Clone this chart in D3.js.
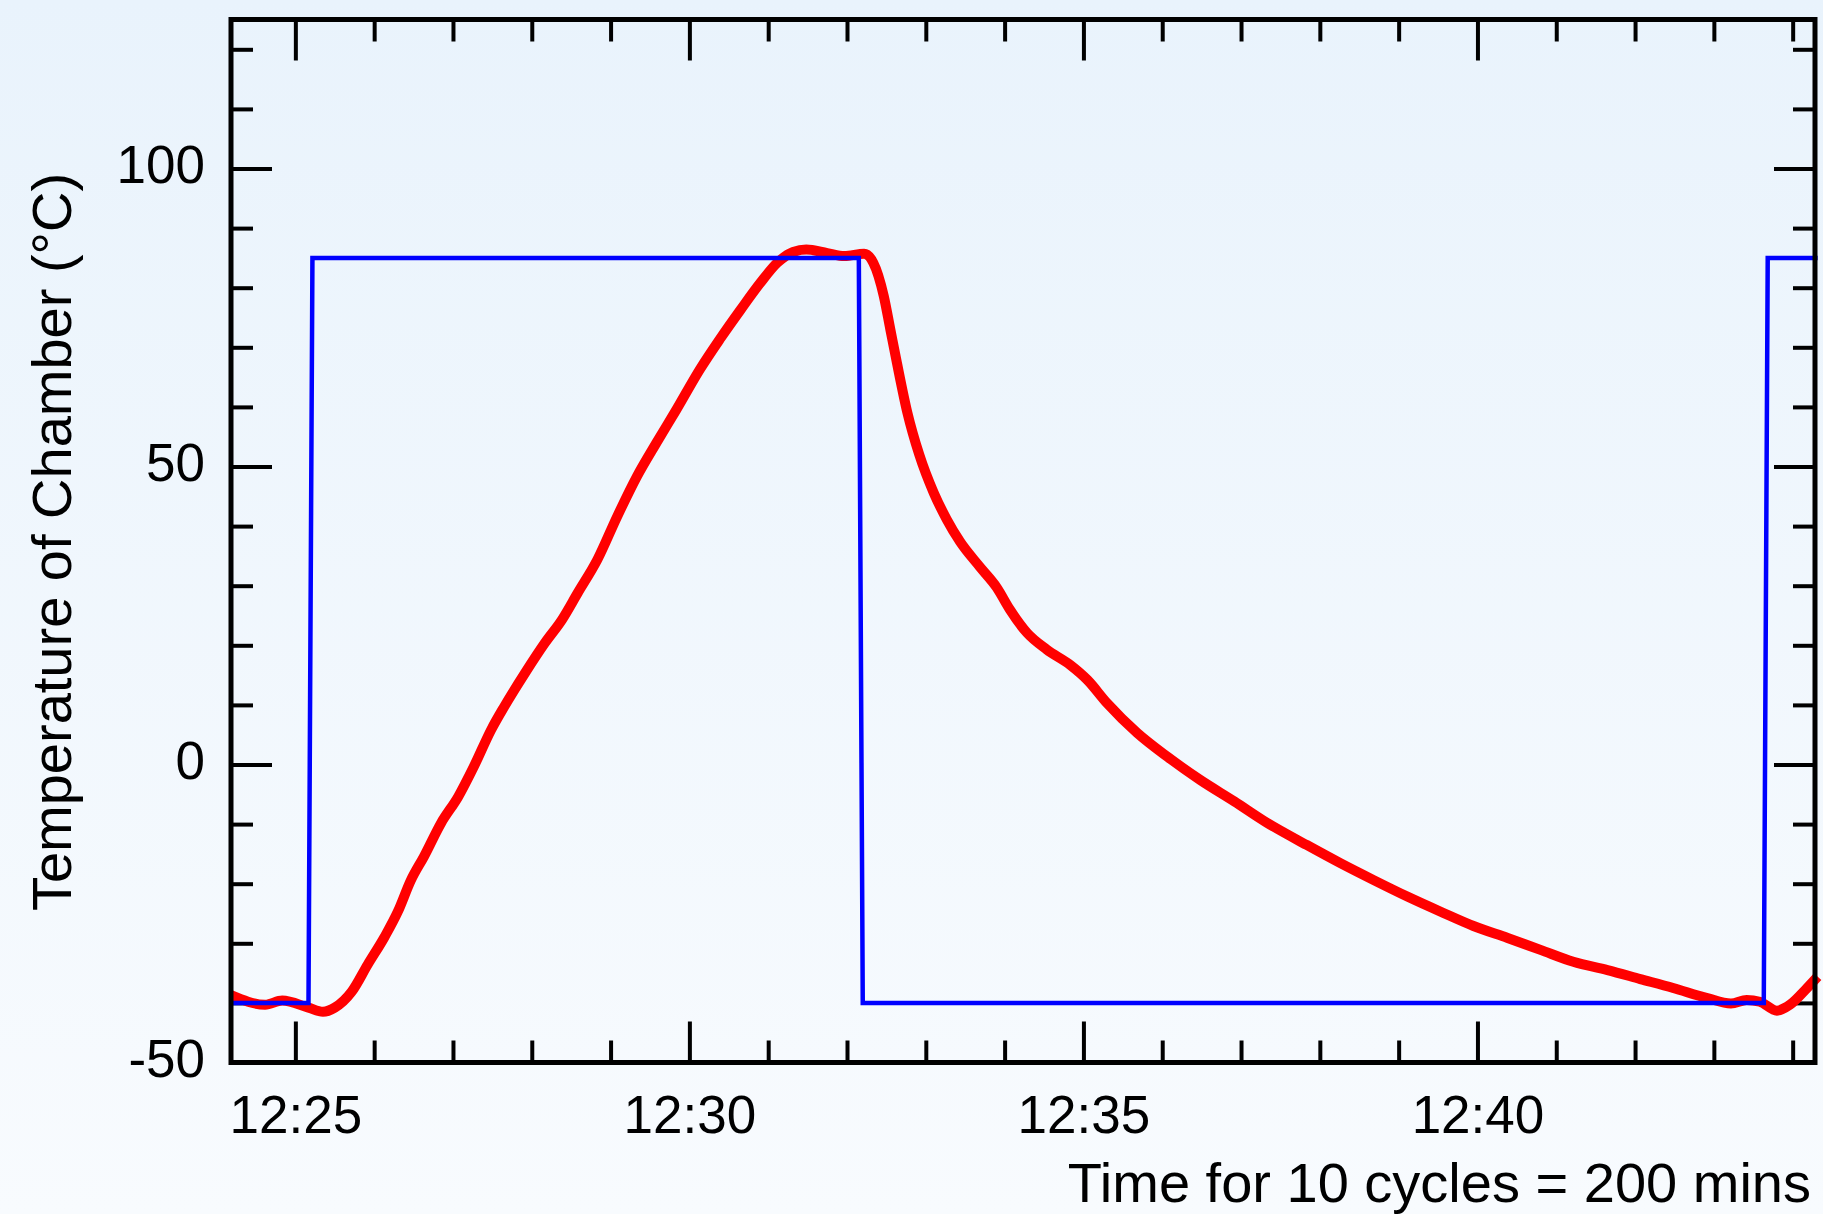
<!DOCTYPE html>
<html>
<head>
<meta charset="utf-8">
<script src="https://cdn.jsdelivr.net/npm/d3@7"></script>
<style>
  html, body { margin: 0; padding: 0; }
  body { width: 1823px; height: 1214px; overflow: hidden; }
  text { font-family: "Liberation Sans", Arial, Helvetica, sans-serif; fill: #000; }
</style>
</head>
<body>
<div id="chart"></div>
<script>
// time values are minutes past 12:00
const chamberTimes = [24.19, 24.61, 24.84, 25.16, 25.35, 25.50, 25.71, 25.92, 26.13, 26.30,
  26.47, 26.64, 26.85, 27.07, 27.27, 27.49, 27.65, 27.91, 28.16, 28.38,
  28.59, 28.84, 29.08, 29.34, 29.59, 29.84, 30.14, 30.39, 30.65, 30.90,
  31.11, 31.32, 31.49, 31.75, 31.96, 32.21, 32.34, 32.47, 32.55, 32.64,
  32.76, 32.91, 33.10, 33.27, 33.44, 33.69, 33.90, 34.07, 34.29, 34.54,
  34.84, 35.05, 35.30, 35.68, 36.06, 36.49, 36.91, 37.33, 37.84, 38.26,
  38.68, 39.11, 39.53, 39.95, 40.38, 40.80, 41.22, 41.65, 42.07, 42.49,
  42.92, 43.21, 43.42, 43.59, 43.80, 43.97, 44.18, 44.31];
const chamberTemps = [-38.7, -40.3, -39.6, -40.8, -41.5, -40.8, -38.1, -33.6, -28.9, -24.7,
  -19.4, -15.4, -9.8, -5.4, -0.3, 5.8, 9.7, 15.4, 20.4, 24.3,
  28.8, 34.4, 41.6, 48.3, 54.0, 59.5, 66.3, 71.3, 76.3, 80.8,
  84.2, 86.0, 86.4, 85.8, 85.3, 85.7, 84.2, 78.6, 73.0, 67.4,
  59.0, 52.0, 45.6, 41.1, 37.4, 33.2, 29.7, 26.0, 22.1, 19.3,
  16.7, 14.2, 10.3, 5.3, 1.3, -2.6, -6.2, -9.8, -13.5, -16.6,
  -19.4, -22.2, -24.7, -27.1, -29.1, -31.1, -33.1, -34.5, -36.0, -37.5,
  -39.2, -40.1, -39.5, -39.8, -41.3, -40.3, -37.5, -35.6];

const setpointTimes = [24.19, 25.16, 25.21, 32.15, 32.20, 43.63, 43.68, 44.31];
const setpointTemps = [-40, -40, 85, 85, -40, -40, 85, 85];

const timeDomain = [24.19, 44.29];
const tempDomain = [-50, 125];
const majorMinutes = [25, 30, 35, 40];
const minorMinutes = d3.range(25, 45).filter(m => !majorMinutes.includes(m));
const majorTemps = [-50, 0, 50, 100];
const minorTemps = d3.range(-40, 130, 10).filter(v => !majorTemps.includes(v));

const yLabel = 'Temperature of Chamber (°C)';
const xLabel = 'Time for 10 cycles = 200 mins';

const toDate = m => new Date(2000, 0, 1, 12, 0, Math.round(m * 60));

const W = 1823, H = 1214;
const plot = { left: 231, right: 1815, top: 19.5, bottom: 1062.5 };
const majorLen = 41, minorLen = 22;

const svg = d3.select('#chart').append('svg').attr('width', W).attr('height', H);

// background gradient
const grad = svg.append('defs').append('linearGradient')
  .attr('id', 'bg').attr('x1', 0).attr('y1', 0).attr('x2', 0).attr('y2', 1);
grad.append('stop').attr('offset', '0%').attr('stop-color', '#e9f3fc');
grad.append('stop').attr('offset', '100%').attr('stop-color', '#f8fbfe');
svg.append('rect').attr('width', W).attr('height', H).attr('fill', 'url(#bg)');

const x = d3.scaleTime().domain(timeDomain.map(toDate)).range([plot.left, plot.right]);
const y = d3.scaleLinear().domain(tempDomain).range([plot.bottom, plot.top]);

// ticks on all four sides, pointing inward
function styleTicks(g) {
  g.select('.domain').remove();
  g.selectAll('.tick line').attr('stroke', '#000').attr('stroke-width', 4);
}

const sides = [
  { make: d3.axisBottom, scale: x, pos: `translate(0,${plot.bottom})`, major: majorMinutes.map(toDate), minor: minorMinutes.map(toDate) },
  { make: d3.axisTop, scale: x, pos: `translate(0,${plot.top})`, major: majorMinutes.map(toDate), minor: minorMinutes.map(toDate) },
  { make: d3.axisLeft, scale: y, pos: `translate(${plot.left},0)`, major: majorTemps, minor: minorTemps },
  { make: d3.axisRight, scale: y, pos: `translate(${plot.right},0)`, major: majorTemps, minor: minorTemps },
];
sides.forEach(s => {
  svg.append('g').attr('transform', s.pos)
    .call(s.make(s.scale).tickValues(s.minor).tickSizeInner(-minorLen).tickSizeOuter(0).tickFormat(''))
    .call(styleTicks);
  svg.append('g').attr('transform', s.pos)
    .call(s.make(s.scale).tickValues(s.major).tickSizeInner(-majorLen).tickSizeOuter(0).tickFormat(''))
    .call(styleTicks);
});

// tick labels
svg.append('g').attr('transform', `translate(0,${plot.bottom})`)
  .call(d3.axisBottom(x).tickValues(majorMinutes.map(toDate)).tickSize(0).tickPadding(33)
    .tickFormat(d3.timeFormat('%H:%M')))
  .call(g => g.select('.domain').remove())
  .call(g => g.selectAll('text').attr('font-size', 53).attr('fill', '#000'));

svg.append('g').attr('transform', `translate(${plot.left},0)`)
  .call(d3.axisLeft(y).tickValues(majorTemps).tickSize(0).tickPadding(26).tickFormat(d => String(d)))
  .call(g => g.select('.domain').remove())
  .call(g => g.selectAll('text').attr('font-size', 53).attr('fill', '#000').attr('dy', '0.27em'));

// series
const redData = chamberTimes.map((t, i) => ({ t: toDate(t), v: chamberTemps[i] }));
const blueData = setpointTimes.map((t, i) => ({ t: toDate(t), v: setpointTemps[i] }));

svg.append('path').datum(redData)
  .attr('fill', 'none').attr('stroke', '#ff0000').attr('stroke-width', 10)
  .attr('stroke-linejoin', 'round').attr('stroke-linecap', 'butt')
  .attr('d', d3.line().x(d => x(d.t)).y(d => y(d.v)).curve(d3.curveMonotoneX));

svg.append('path').datum(blueData)
  .attr('fill', 'none').attr('stroke', '#0000ff').attr('stroke-width', 4.5)
  .attr('stroke-linejoin', 'miter')
  .attr('d', d3.line().x(d => x(d.t)).y(d => y(d.v)));

// frame
svg.append('rect')
  .attr('x', plot.left).attr('y', plot.top)
  .attr('width', plot.right - plot.left).attr('height', plot.bottom - plot.top)
  .attr('fill', 'none').attr('stroke', '#000').attr('stroke-width', 5);

// axis titles
svg.append('text')
  .attr('transform', 'rotate(-90)').attr('x', -542).attr('y', 71)
  .attr('text-anchor', 'middle').attr('font-size', 56)
  .text(yLabel);

svg.append('text')
  .attr('x', 1811).attr('y', 1202)
  .attr('text-anchor', 'end').attr('font-size', 56)
  .text(xLabel);
</script>
</body>
</html>
